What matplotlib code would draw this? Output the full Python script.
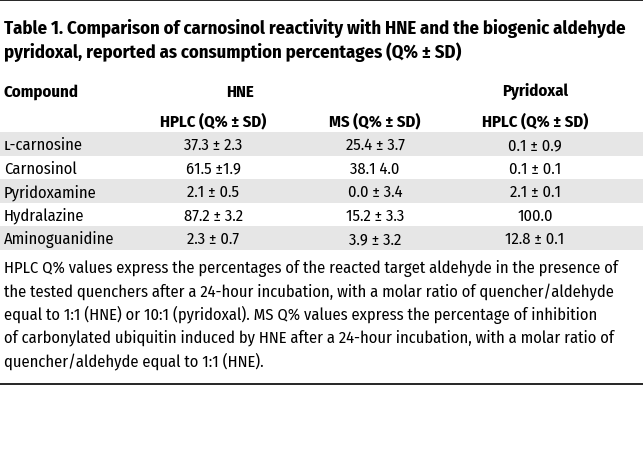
import matplotlib
matplotlib.use("Agg")
import matplotlib.pyplot as plt
from matplotlib import font_manager

## Table content
title_lines = ["Table 1. Comparison of carnosinol reactivity with HNE and the biogenic aldehyde",
               "pyridoxal, reported as consumption percentages (Q% ± SD)"]
compounds = ["ʟ-carnosine", "Carnosinol", "Pyridoxamine", "Hydralazine", "Aminoguanidine"]
hplc_hne = ["37.3 ± 2.3", "61.5 ±1.9", "2.1 ± 0.5", "87.2 ± 3.2", "2.3 ± 0.7"]
ms_hne = ["25.4 ± 3.7", "38.1 4.0", "0.0 ± 3.4", "15.2 ± 3.3", "3.9 ± 3.2"]
hplc_pyr = ["0.1 ± 0.9", "0.1 ± 0.1", "2.1 ± 0.1", "100.0", "12.8 ± 0.1"]
group_heads = ["HNE", "Pyridoxal"]
sub_heads = ["HPLC (Q% ± SD)", "MS (Q% ± SD)", "HPLC (Q% ± SD)"]
footnote = ["HPLC Q% values express the percentages of the reacted target aldehyde in the presence of",
            "the tested quenchers after a 24-hour incubation, with a molar ratio of quencher/aldehyde",
            "equal to 1:1 (HNE) or 10:1 (pyridoxal). MS Q% values express the percentage of inhibition",
            "of carbonylated ubiquitin induced by HNE after a 24-hour incubation, with a molar ratio of",
            "quencher/aldehyde equal to 1:1 (HNE)."]

# pick a condensed font
names = {f.name for f in font_manager.fontManager.ttflist}
main_font = "Roboto Condensed"
for cand in ["Fira Sans Condensed", "Fira Sans Extra Condensed", "Roboto Condensed"]:
    if cand in names:
        main_font = cand
        break
fam = [main_font, "DejaVu Sans"]

fig = plt.figure(figsize=(6.43, 4.64), dpi=100)
ax = fig.add_axes([0, 0, 1, 1])
ax.set_xlim(0, 643)
ax.set_ylim(464, 0)
ax.axis("off")

# rules
ax.plot([0, 643], [1, 1], color="black", lw=1.2)
ax.plot([0, 643], [384.5, 384.5], color="black", lw=1.2)

# title
for i, line in enumerate(title_lines):
    ax.text(4, 28 + 24 * i, line, fontsize=13.45, fontweight="bold", family=fam,
            va="center", ha="left")

# headers
col_x = [213, 375, 535]
hfs = 12
fs = 11.85
ax.text(4, 92, "Compound", fontsize=hfs, fontweight="bold", family=fam, va="center")
ax.text(240, 92, group_heads[0], fontsize=hfs, fontweight="bold", family=fam, va="center", ha="center")
ax.text(col_x[2], 92, group_heads[1], fontsize=hfs, fontweight="bold", family=fam, va="center", ha="center")
for x, s in zip(col_x, sub_heads):
    ax.text(x, 121, s, fontsize=hfs, fontweight="bold", family=fam, va="center", ha="center")

# body rows
row_h = 23.5
for i, name in enumerate(compounds):
    y = 145 + row_h * i
    if i % 2 == 0:
        ax.axhspan(y - row_h / 2, y + row_h / 2, color="#e6e6e6", lw=0, zorder=0)
    ax.text(4, y + 0.5, name, fontsize=fs, family=fam, va="center")
    for x, col in zip(col_x, [hplc_hne, ms_hne, hplc_pyr]):
        ax.text(x, y + 0.5, col[i], fontsize=fs, family=fam, va="center", ha="center")

# footnote
for i, line in enumerate(footnote):
    ax.text(4, 269 + 23 * i, line, fontsize=fs, family=fam, va="center")

fig.savefig("out.png", dpi=100)
